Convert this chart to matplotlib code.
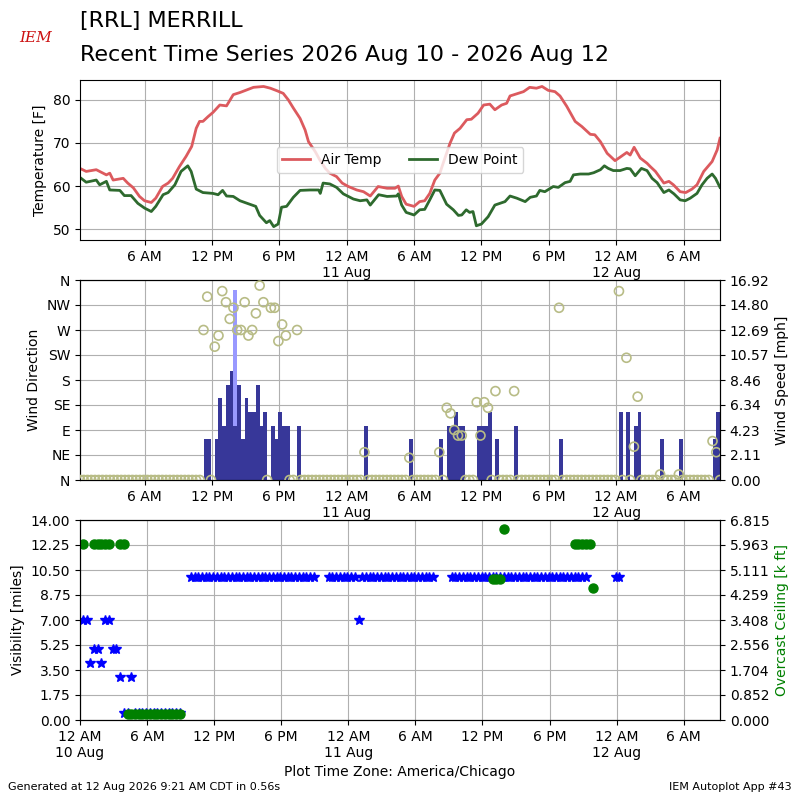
from datetime import timedelta

import matplotlib

matplotlib.use("Agg")
import matplotlib.dates as mdates
import matplotlib.pyplot as plt
import numpy as np
import pandas as pd
from matplotlib.ticker import FuncFormatter, FormatStrFormatter


FIRST_OB = pd.Timestamp("2026-08-10 00:15")
LAST_OB = pd.Timestamp("2026-08-12 09:15")
DAY0 = pd.Timestamp("2026-08-10 00:00")

# temperature traces, hours after 10 Aug 00:00
TEMP_HOURS = [
    0.25, 0.8, 1.7, 2.0, 2.6, 2.9, 3.2, 4.1, 4.5, 5.0, 5.55, 6.0, 6.6, 7.0, 7.6,
    8.1, 8.5, 9.1, 9.7, 10.2, 10.6, 10.9, 11.2, 11.65, 12.1, 12.7, 13.3, 13.9,
    14.5, 15.1, 15.7, 16.6, 17.2, 17.8, 18.35, 18.8, 19.25, 19.85, 20.3, 20.6,
    21.2, 21.6, 22.1, 22.5, 23.1, 23.6, 24.15, 24.9, 25.5, 25.8, 26.1, 26.8,
    27.6, 28.3, 28.6, 28.9, 29.3, 30.0, 30.5, 30.95, 31.4, 31.85, 32.3, 32.75,
    33.2, 33.6, 34.1, 34.7, 35.1, 35.7, 36.2, 36.75, 37.2, 37.8, 38.25, 38.55,
    39.15, 39.75, 40.3, 40.9, 41.4, 41.95, 42.55, 43.0, 43.6, 44.35, 44.95,
    45.7, 46.1, 46.6, 47.2, 47.9, 48.35, 48.95, 49.25, 49.6, 50.15, 50.75,
    51.05, 51.5, 52.25, 52.7, 53.1, 53.7, 54.2, 54.75, 55.2, 55.8, 56.55, 57.0,
    57.25,
]
TEMP_F = [
    64.1, 63.4, 63.8, 63.4, 62.6, 63.0, 61.4, 61.8, 60.7, 59.6, 57.6, 56.6,
    56.2, 57.2, 59.9, 60.7, 61.8, 64.5, 66.9, 69.2, 73.4, 75.0, 75.0, 76.1,
    77.1, 78.8, 78.6, 81.2, 81.7, 82.3, 82.9, 83.1, 82.7, 82.1, 81.5, 80.0,
    78.1, 75.7, 73.0, 70.3, 68.0, 66.1, 64.1, 63.0, 62.2, 60.7, 59.9, 59.1,
    58.7, 58.2, 57.7, 59.9, 59.5, 59.5, 60.0, 57.6, 55.8, 55.3, 56.4, 56.6,
    58.3, 61.4, 63.0, 66.5, 69.9, 72.3, 73.4, 75.4, 75.5, 76.9, 78.8, 79.0,
    77.7, 78.8, 79.2, 80.9, 81.4, 81.9, 82.9, 82.7, 83.1, 82.2, 81.9, 80.9,
    78.5, 75.0, 73.8, 72.0, 71.9, 70.3, 67.6, 65.9, 66.7, 67.8, 67.2, 69.0,
    66.5, 65.3, 64.5, 63.4, 60.7, 61.1, 60.3, 58.7, 58.5, 59.3, 60.3, 63.4,
    65.7, 68.4, 71.1,
]
DEW_HOURS = [
    0.25, 0.8, 1.7, 2.0, 2.6, 2.9, 3.8, 4.2, 4.8, 5.4, 6.0, 6.6, 7.0, 7.65,
    8.1, 8.7, 9.25, 9.85, 10.15, 10.6, 11.2, 12.1, 12.55, 12.95, 13.3, 13.9,
    14.5, 15.25, 15.9, 16.25, 16.85, 17.15, 17.5, 17.9, 18.2, 18.65, 19.25,
    19.85, 20.75, 21.5, 21.65, 21.9, 22.5, 23.1, 23.7, 24.15, 24.6, 25.2,
    25.8, 26.1, 26.85, 27.6, 28.45, 28.6, 28.9, 29.3, 30.0, 30.5, 30.95, 31.4,
    31.85, 32.3, 32.9, 33.5, 33.95, 34.25, 34.65, 34.95, 35.25, 35.55, 36.0,
    36.6, 37.2, 37.65, 38.1, 38.55, 39.15, 39.9, 40.35, 40.9, 41.2, 41.65,
    42.4, 42.85, 43.45, 43.9, 44.2, 44.8, 45.55, 46.0, 46.6, 46.95, 47.3,
    47.75, 48.35, 48.95, 49.25, 49.7, 50.25, 50.75, 51.2, 51.65, 52.25, 52.7,
    53.15, 53.7, 54.15, 54.6, 55.2, 55.65, 56.1, 56.55, 56.85, 57.25,
]
DEW_F = [
    62.0, 60.9, 61.4, 60.3, 61.1, 59.1, 59.0, 57.8, 57.8, 56.0, 54.9, 54.1,
    55.3, 58.0, 58.5, 60.3, 63.4, 64.7, 63.4, 59.3, 58.5, 58.3, 58.0, 59.0,
    57.7, 57.6, 56.6, 55.9, 55.3, 53.2, 51.5, 52.0, 50.6, 51.2, 55.1, 55.3,
    57.4, 59.0, 59.1, 59.1, 58.3, 60.7, 60.5, 59.7, 58.2, 57.6, 57.0, 56.6,
    56.8, 55.6, 58.0, 57.6, 57.7, 58.2, 55.6, 53.9, 53.3, 54.5, 54.6, 56.8,
    59.1, 59.0, 55.8, 54.5, 53.2, 53.3, 54.5, 53.9, 54.1, 50.8, 51.2, 52.9,
    55.6, 56.0, 56.4, 57.7, 57.2, 56.4, 57.4, 57.7, 59.0, 58.7, 59.9, 59.7,
    60.8, 61.1, 62.6, 62.8, 62.8, 63.1, 63.8, 64.7, 64.1, 63.6, 63.6, 64.1,
    64.0, 62.4, 64.1, 63.6, 61.8, 60.8, 58.5, 59.1, 58.2, 56.8, 56.6, 57.2,
    58.3, 60.3, 61.8, 62.8, 61.8, 59.7,
]

# 20 minute observations, index 0 = 00:15 on 10 Aug; calm otherwise
WIND_OB = [
    33, 34, 36, 37, 38, 39, 40, 41, 42, 43, 44, 45, 46, 47, 48, 49, 51, 52,
    53, 54, 55, 58, 76, 88, 96, 98, 99, 100, 101, 102, 106, 107, 108, 109,
    111, 116, 128, 144, 146, 148, 149, 155, 160, 169, 170,
]
WIND_KT = [
    3, 3, 3, 6, 4, 7, 8, 4, 7, 3, 6, 5, 5, 7, 4, 5, 4, 3,
    5, 4, 4, 4, 4, 3, 3, 4, 4, 5, 4, 4, 4, 4, 4, 5,
    3, 4, 3, 5, 5, 4, 5, 3, 3, 3, 5,
]
WIND_DIR = [
    270, 330, 240, 260, 340, 320, 290, 310, 270, 270, 320, 260, 270, 300,
    350, 320, 310, 310, 250, 280, 260, 270, 50, 40, 50, 130, 120, 90, 80, 80,
    140, 80, 140, 130, 160, 160, 310, 340, 220, 60, 150, 10, 10, 70, 50,
]
GUST_OB = [41]
GUST_KT = [14]

VIS_OB = (list(range(0, 27)) + list(range(29, 63)) + list(range(66, 95))
          + list(range(99, 136)) + [143, 144])
VIS_MI = ([7, 7, 4, 5, 5, 4, 7, 7, 5, 5, 3, 0.5, 0.5, 3] + [0.5] * 13
          + [10] * 34 + [10] * 8 + [7] + [10] * 20 + [10] * 37 + [10, 10])

CEIL_OB = [0, 3, 4, 5, 6, 7, 10, 11] + list(range(12, 27)) + [110, 111, 112, 113,
                                                              132, 133, 134, 135, 136, 137]
CEIL_KFT = [6.0] * 8 + [0.2] * 15 + [4.8, 4.8, 4.8, 6.5, 6.0, 6.0, 6.0, 6.0, 6.0, 4.5]

DIR_LABELS = ["N", "NE", "E", "SE", "S", "SW", "W", "NW", "N"]
KT2MPH = 1.15078


def time_label(x, pos=None):
    d = mdates.num2date(x) + timedelta(seconds=30)
    if d.hour == 0:
        return "12 AM\n" + d.strftime("%d %b")
    h = d.hour % 12 or 12
    return f"{h} {'AM' if d.hour < 12 else 'PM'}"


def dress_time_axis(ax):
    ax.xaxis.set_major_locator(mdates.HourLocator(byhour=[0, 6, 12, 18]))
    ax.xaxis.set_major_formatter(FuncFormatter(time_label))


obs_times = pd.date_range(FIRST_OB, LAST_OB, freq="20min")
t_num = mdates.date2num(obs_times.to_pydatetime())
bar_w = 20.0 / 1440.0

fig = plt.figure(figsize=(8, 8), dpi=100)

# temperature
ax1 = fig.add_axes([0.1, 0.7, 0.8, 0.2])
temp_t = [DAY0 + pd.Timedelta(hours=h) for h in TEMP_HOURS]
dew_t = [DAY0 + pd.Timedelta(hours=h) for h in DEW_HOURS]
ax1.plot(temp_t, TEMP_F, color="#dc5a5e", lw=2, label="Air Temp")
ax1.plot(dew_t, DEW_F, color="#2e6a2e", lw=2, label="Dew Point")
ax1.set_ylim(47.5, 84.6)
ax1.set_xlim(FIRST_OB, LAST_OB)
ax1.set_ylabel("Temperature [F]")
ax1.grid(True)
ax1.legend(loc="center", ncol=2)
dress_time_axis(ax1)

# wind: bars sit on the speed twin, grid kept beneath the bars
ax2 = fig.add_axes([0.1, 0.4, 0.8, 0.25])
ax2b = ax2.twinx()
speed = np.zeros(len(obs_times))
direction = np.zeros(len(obs_times))
speed[WIND_OB] = np.array(WIND_KT) * KT2MPH
direction[WIND_OB] = WIND_DIR
gust_mph = np.array(GUST_KT) * KT2MPH
ax2b.bar(t_num[GUST_OB], gust_mph - speed[GUST_OB], bottom=speed[GUST_OB],
         width=bar_w, align="edge", color="#9999ff")
ax2b.bar(t_num, speed, width=bar_w, align="edge", color="#373799")
ax2.scatter(t_num, direction, s=42, facecolors="none", edgecolors="#b8bc86",
            linewidths=1.2, zorder=4)
ax2.set_zorder(ax2b.get_zorder() + 1)
ax2.patch.set_visible(False)
ax2.set_ylim(0, 360)
ax2.set_yticks(np.arange(0, 361, 45))
ax2.set_yticklabels(DIR_LABELS)
ax2.set_ylabel("Wind Direction")
spd_top = gust_mph.max() * 1.05
ax2b.set_ylim(0, spd_top)
ax2b.set_yticks(np.linspace(0, spd_top, 9))
ax2b.yaxis.set_major_formatter(FormatStrFormatter("%.2f"))
ax2b.set_ylabel("Wind Speed [mph]")
ax2.set_xlim(FIRST_OB, LAST_OB)
dress_time_axis(ax2)
ax2b.xaxis.set_visible(True)
ax2b.tick_params(axis="x", which="both", bottom=False, top=False,
                 labelbottom=False, labeltop=False)
ax2b.set_axisbelow(True)
ax2b.grid(True)

# visibility and ceiling
ax3 = fig.add_axes([0.1, 0.1, 0.8, 0.25])
ax3b = ax3.twinx()
ax3.plot(t_num[VIS_OB], VIS_MI, "*", color="b", ms=7.5, ls="none")
ax3b.plot(t_num[CEIL_OB], CEIL_KFT, "o", color="g", ms=6.5, ls="none")
ax3.set_ylim(0, 14)
ax3.set_yticks(np.linspace(0, 14, 9))
ax3.yaxis.set_major_formatter(FormatStrFormatter("%.2f"))
ax3.set_ylabel("Visibility [miles]")
ax3b.set_ylim(0, 6.8151)
ax3b.set_yticks(np.linspace(0, 6.8151, 9))
ax3b.yaxis.set_major_formatter(FormatStrFormatter("%.3f"))
ax3b.set_ylabel("Overcast Ceiling [k ft]", color="g")
ax3.grid(True)
ax3.set_xlim(DAY0, LAST_OB)
dress_time_axis(ax3)
ax3.set_xlabel("Plot Time Zone: America/Chicago")

fig.text(0.1, 0.974, "[RRL] MERRILL", fontsize=16, va="center")
fig.text(0.1, 0.931, "Recent Time Series 2026 Aug 10 - 2026 Aug 12",
         fontsize=16, va="center")
fig.text(0.045, 0.953, "IEM", color="#cc1111", fontsize=11, style="italic",
         family="DejaVu Serif", ha="center", va="center")
fig.text(0.01, 0.01, "Generated at 12 Aug 2026 9:21 AM CDT in 0.56s",
         fontsize=8, va="bottom")
fig.text(0.99, 0.01, "IEM Autoplot App #43", fontsize=8, ha="right",
         va="bottom")

fig.savefig("out.png", dpi=100)
